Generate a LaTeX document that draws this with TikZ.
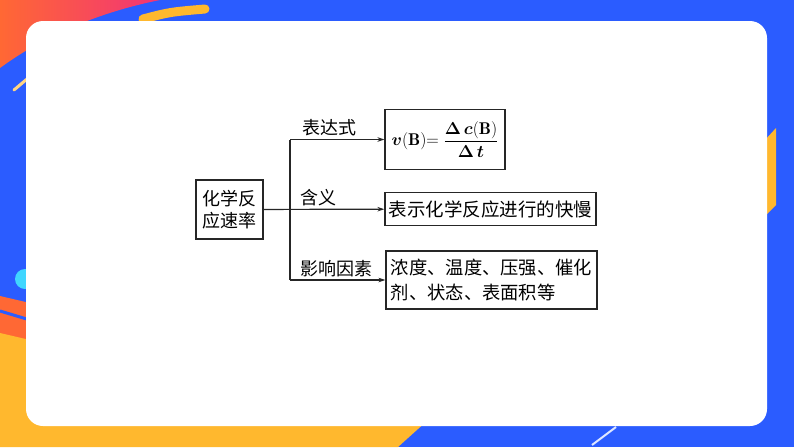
\documentclass[tikz,border=0pt]{standalone}
\usepackage{amsmath, amssymb}
\usepackage{fontspec}
\newfontfamily\cjk{Noto Sans CJK SC}
\usepackage{tikz}
\usetikzlibrary{arrows.meta}
\definecolor{bgblue}{RGB}{43,92,255}
\definecolor{bgyellow}{RGB}{255,184,46}
\definecolor{bgorange}{RGB}{255,104,52}
\definecolor{bgpink}{RGB}{242,52,118}
\definecolor{bgcyan}{RGB}{64,214,255}

\begin{document}
\begin{tikzpicture}[x=1pt, y=-1pt,
  flowbox/.style={draw=black!85, line width=1.2pt, inner sep=3pt, font=\cjk\fontsize{18.5}{22}\selectfont},
  lbl/.style={font=\cjk\fontsize{18}{20}\selectfont},
  link/.style={line width=1.2pt, black!85},
  >={Stealth[length=7pt,width=4.5pt]}]
% background
\useasboundingbox (0,0) rectangle (794,447);
\fill[bgblue] (0,0) rectangle (794,447);
\shade[left color=bgorange, right color=bgpink] (0,0) -- (160,0) .. controls (100,12) and (45,35) .. (0,68) -- cycle;
\draw[bgyellow, line width=9pt, line cap=round] (143,19) .. controls (170,12) .. (205,9);
\draw[bgyellow!60, line width=3pt, line cap=round] (14,90) -- (27,79);
\fill[bgcyan] (25,279) circle (10);
\fill[bgorange] (0,296) -- (30,303) -- (30,345) -- (0,338) -- cycle;
\draw[bgblue, line width=3pt] (0,311) -- (30,320);
\fill[bgyellow] (0,333) -- (30,340) -- (30,420) -- (428,420) -- (398,447) -- (0,447) -- cycle;
\fill[bgyellow] (765,140) -- (776,128) -- (776,205) -- (765,216) -- cycle;
\draw[white!85!bgblue, line width=2pt] (592,445) -- (616,427);
\fill[white, rounded corners=17] (26,21) rectangle (767,426);
% diagram
\node[flowbox, minimum width=120pt, minimum height=60pt, font=\fontsize{17}{20}\selectfont] (expr) at (445,139.5) {$\boldsymbol{v}(\mathbf{B})\mathbf{=}\;\dfrac{\boldsymbol{\Delta}\,\boldsymbol{c}(\mathbf{B})}{\boldsymbol{\Delta}\,\boldsymbol{t}}$};
\node[flowbox, minimum width=211pt, minimum height=33pt] (mean) at (490.5,209) {表示化学反应进行的快慢};
\node[flowbox, minimum width=211pt, minimum height=58pt, align=left, font=\cjk\fontsize{18.3}{25}\selectfont] (fact) at (491.5,280) {浓度、温度、压强、催化\\剂、状态、表面积等};
\node[lbl] (l-expr) at (329,128) {表达式};
\node[lbl] (l-mean) at (318,198) {含义};
\node[lbl] (l-fact) at (336,269) {影响因素};
\node[flowbox, minimum width=67pt, minimum height=59pt, align=center, font=\cjk\fontsize{18}{22}\selectfont] (rate) at (229.5,209.5) {化学反\\应速率};
\coordinate (top) at (290,139.5);
\coordinate (bot) at (290,280);
\draw[link] (top) -- (bot);
\draw[link, ->] (node cs:name=rate) -- (node cs:name=mean);
\draw[link, ->] (top) -- (node cs:name=expr);
\draw[link, ->] (bot) -- (node cs:name=fact);
\end{tikzpicture}
\end{document}
